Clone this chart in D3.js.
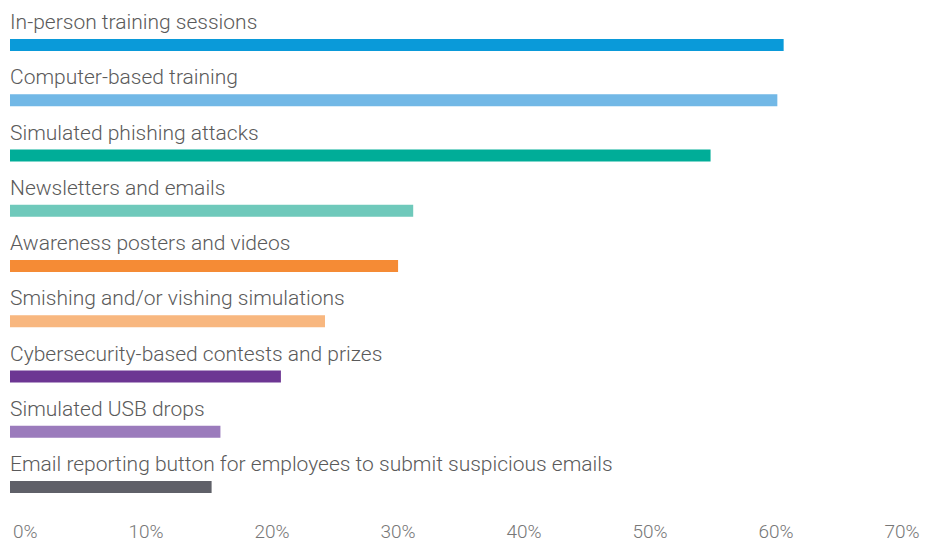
<!DOCTYPE html>
<html>
<head>
<meta charset="utf-8">
<script src="https://cdn.jsdelivr.net/npm/d3@7"></script>
<style>
  html, body { margin: 0; padding: 0; background: #fff; }
  svg text { font-family: Roboto, "Liberation Sans", sans-serif; font-weight: 300; }
</style>
</head>
<body>
<svg id="chart" width="925" height="543"></svg>
<script>
// Training methods and share of respondents using them (%)
const categories = [
  "In-person training sessions",
  "Computer-based training",
  "Simulated phishing attacks",
  "Newsletters and emails",
  "Awareness posters and videos",
  "Smishing and/or vishing simulations",
  "Cybersecurity-based contests and prizes",
  "Simulated USB drops",
  "Email reporting button for employees to submit suspicious emails"
];
const values = [61.4, 60.9, 55.6, 32.0, 30.8, 25.0, 21.5, 16.7, 16.0];
const colors = ["#0a9ad9", "#72b8e6", "#00ad98", "#6fc9bb", "#f58b35",
                "#f8b77f", "#6d3693", "#9b7bbc", "#5f6068"];
const tickValues = [0, 10, 20, 30, 40, 50, 60, 70];

const svg = d3.select("#chart");
const x = d3.scaleLinear().domain([0, 70]).range([10, 892]);
const y = d3.scaleBand().domain(categories).range([39, 39 + 55.25 * 9]).paddingInner(0).paddingOuter(0);
const barH = 12;

const rows = svg.append("g").selectAll("g").data(categories).join("g");

rows.append("rect")
  .attr("x", x(0))
  .attr("y", d => y(d))
  .attr("width", (d, i) => x(values[i]) - x(0))
  .attr("height", barH)
  .attr("fill", (d, i) => colors[i]);

rows.append("text")
  .attr("x", x(0))
  .attr("y", d => y(d) - 10)
  .attr("fill", "#5a5a5a")
  .style("font-size", "21px")
  .text(d => d);

const axis = d3.axisBottom(x)
  .tickValues(tickValues)
  .tickSize(0)
  .tickFormat(d => d + "%");

const gx = svg.append("g").attr("transform", "translate(0,521)").call(axis);
gx.select(".domain").remove();
gx.selectAll("text")
  .attr("text-anchor", "end")
  .attr("dx", 27)
  .attr("fill", "#777")
  .style("font-size", "19px")
  .style("font-family", "Roboto, 'Liberation Sans', sans-serif")
  .style("font-weight", 300);
</script>
</body>
</html>
